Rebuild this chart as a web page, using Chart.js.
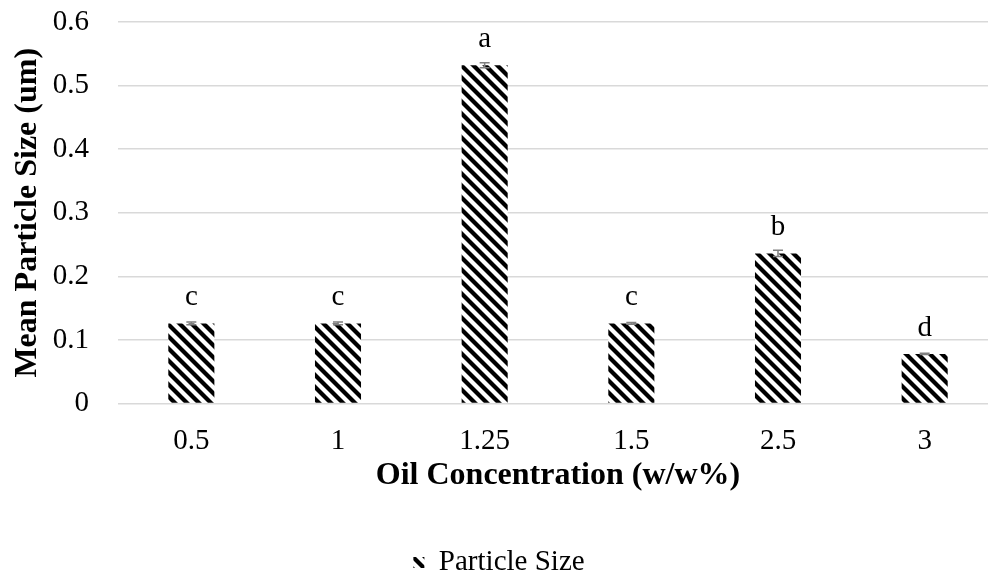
<!DOCTYPE html>
<html>
<head>
<meta charset="utf-8">
<script src="https://cdn.jsdelivr.net/npm/chart.js@4"></script>
<style>
  html, body { margin: 0; padding: 0; background: #fff; overflow: hidden; }
  canvas { display: block; }
</style>
</head>
<body>
<canvas id="sizeChart" width="1000" height="576"></canvas>
<script>
// chart values
const categories = ['0.5', '1', '1.25', '1.5', '2.5', '3'];
const particleSize = [0.126, 0.126, 0.532, 0.126, 0.236, 0.078];
const errors = [0.002, 0.002, 0.004, 0.0015, 0.005, 0.001];
const letters = ['c', 'c', 'a', 'c', 'b', 'd'];
const yTickLabels = ['0', '0.1', '0.2', '0.3', '0.4', '0.5', '0.6'];

const FONT = 'Liberation Serif';

// diagonal hatch fill
function makeHatch() {
  const s = 12;
  const c = document.createElement('canvas');
  c.width = s;
  c.height = s;
  const g = c.getContext('2d');
  g.fillStyle = '#fff';
  g.fillRect(0, 0, s, s);
  g.strokeStyle = '#000';
  g.lineWidth = 4.2;
  for (let k = -1; k <= 1; k++) {
    g.beginPath();
    g.moveTo(-2, k * s - 2);
    g.lineTo(s + 2, k * s + s + 2);
    g.stroke();
  }
  return g.createPattern(c, 'repeat');
}

// error bars and letters above bars
const errorBars = {
  id: 'errorBars',
  afterDatasetsDraw(chart) {
    const ctx = chart.ctx;
    const y = chart.scales.y;
    const meta = chart.getDatasetMeta(0);
    ctx.save();
    ctx.strokeStyle = '#7f7f7f';
    ctx.lineWidth = 1.5;
    meta.data.forEach((bar, i) => {
      const x = bar.x;
      const top = y.getPixelForValue(particleSize[i] + errors[i]);
      const bot = y.getPixelForValue(particleSize[i] - errors[i]);
      ctx.beginPath();
      ctx.moveTo(x, top);
      ctx.lineTo(x, bot);
      ctx.moveTo(x - 5, top);
      ctx.lineTo(x + 5, top);
      ctx.moveTo(x - 5, bot);
      ctx.lineTo(x + 5, bot);
      ctx.stroke();
    });
    ctx.fillStyle = '#000';
    ctx.font = '29px "' + FONT + '"';
    ctx.textAlign = 'center';
    ctx.textBaseline = 'middle';
    meta.data.forEach((bar, i) => {
      ctx.fillText(letters[i], bar.x, y.getPixelForValue(particleSize[i]) - 26);
    });
    ctx.restore();
  }
};

const hatch = makeHatch();

new Chart(document.getElementById('sizeChart'), {
  type: 'bar',
  data: {
    labels: categories,
    datasets: [{
      label: 'Particle Size',
      data: particleSize,
      backgroundColor: hatch,
      borderWidth: 0,
      categoryPercentage: 1,
      barPercentage: 0.314
    }]
  },
  options: {
    responsive: false,
    animation: false,
    layout: { padding: { top: 22, right: 2, left: 0, bottom: -11 } },
    plugins: {
      tooltip: { enabled: false },
      legend: {
        position: 'bottom',
        labels: {
          boxWidth: 11,
          boxHeight: 11,
          padding: 3,
          color: '#000',
          font: { family: FONT, size: 29 }
        }
      }
    },
    scales: {
      x: {
        afterFit(scale) { scale.height = 141.5; },
        grid: { display: false },
        border: { display: false },
        ticks: { color: '#000', padding: 12, font: { family: FONT, size: 29 } },
        title: {
          display: true,
          text: 'Oil Concentration (w/w%)',
          color: '#000',
          padding: { top: 0, bottom: 50 },
          font: { family: FONT, size: 32, weight: 'bold' }
        }
      },
      y: {
        min: 0,
        max: 0.6,
        afterFit(scale) { scale.width = 118; },
        grid: {
          color: '#d9d9d9',
          lineWidth: 1.5,
          drawTicks: true,
          tickLength: 29,
          tickColor: 'rgba(0,0,0,0)'
        },
        border: { display: false },
        ticks: {
          stepSize: 0.1,
          padding: 0,
          color: '#000',
          font: { family: FONT, size: 29 },
          callback: (v, i) => yTickLabels[i]
        },
        title: {
          display: true,
          text: 'Mean Particle Size (um)',
          color: '#000',
          padding: { top: 9, bottom: 0 },
          font: { family: FONT, size: 32, weight: 'bold' }
        }
      }
    }
  },
  plugins: [errorBars]
});
</script>
</body>
</html>
